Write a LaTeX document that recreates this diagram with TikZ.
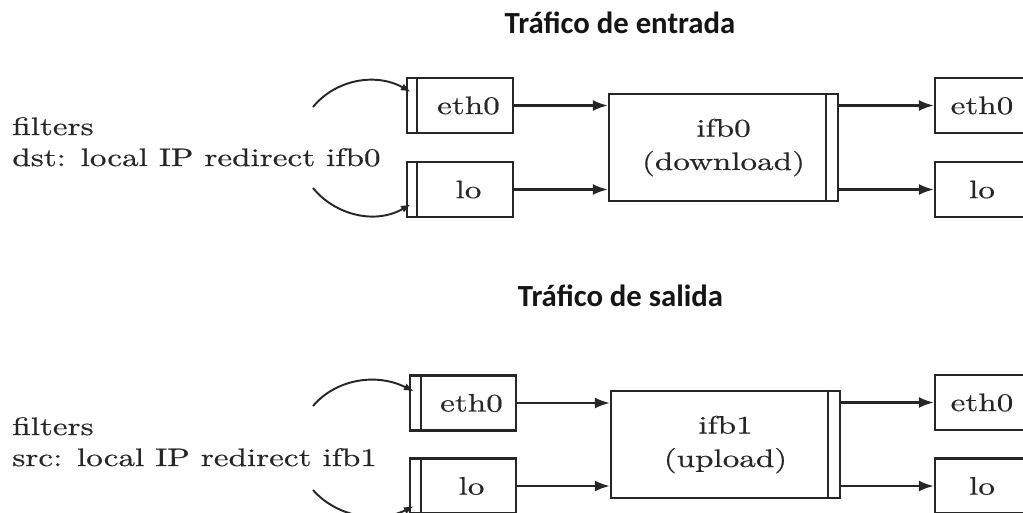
\documentclass[tikz,border=0pt]{standalone}
\usepackage{fontspec}
\usetikzlibrary{arrows.meta,calc}
\newfontfamily\lmwide{lmroman10-regular.otf}[FakeStretch=1.31,FakeBold=0.5]
\newfontfamily\headfont{Carlito}
\definecolor{ink}{HTML}{262626}
\definecolor{headink}{HTML}{151515}
\tikzset{
  iface/.style={draw=ink, line width=1.3pt, minimum width=2.12cm, minimum height=1.1cm,
    inner sep=0pt, font=\lmwide\fontsize{14.4}{19}\selectfont, text=ink},
  ifbbox/.style={iface, minimum width=4.58cm, minimum height=2.14cm, align=center},
  flow/.style={draw=ink, line width=1.3pt, -{Latex[length=0.3cm,width=0.22cm]}},
  hook/.style={draw=ink, line width=1.1pt, -{Latex[length=0.2cm,width=0.15cm]}},
  qbar/.style={draw=ink, line width=1.3pt},
  note/.style={font=\lmwide\fontsize{14.4}{18}\selectfont, text=ink, anchor=base west, inner sep=0pt},
  heading/.style={font=\headfont\bfseries\fontsize{17.5}{21}\selectfont, text=headink,
    anchor=base, inner sep=0pt},
}
\begin{document}
\begin{tikzpicture}[x=0.02cm, y=-0.02cm]
\useasboundingbox (0,0) rectangle (1023,512);
\clip (0,0) rectangle (1023,512);

% ---------- incoming traffic ----------
\node[heading] (t0) at (620,33) {Tráfico de entrada};

\node[note] (f0) at (12,135) {filters};
\node[note] (d0) at (12,166) {dst: local IP redirect ifb0};

\node[iface] (e0in) at (460,105.5) {\hspace*{0.34cm}eth0};
\node[iface] (l0in) at (460,189.5) {\hspace*{0.34cm}lo};
\node[ifbbox] (ifb0) at (723.5,147.5) {ifb0\\(download)};
\node[iface] (e0out) at (988,105.5) {eth0\hspace*{0.24cm}};
\node[iface] (l0out) at (988,189.5) {lo\hspace*{0.24cm}};

\draw[qbar] ([xshift=0.22cm]e0in.north west) -- ([xshift=0.22cm]e0in.south west);
\draw[qbar] ([xshift=0.22cm]l0in.north west) -- ([xshift=0.22cm]l0in.south west);
\draw[qbar] ([xshift=-0.26cm]ifb0.north east) -- ([xshift=-0.26cm]ifb0.south east);
\draw[qbar] ([xshift=-0.22cm]e0out.north east) -- ([xshift=-0.22cm]e0out.south east);
\draw[qbar] ([xshift=-0.22cm]l0out.north east) -- ([xshift=-0.22cm]l0out.south east);

\draw[flow] (e0in.east) -- (e0in.east -| ifb0.west);
\draw[flow] (l0in.east) -- (l0in.east -| ifb0.west);
\draw[flow] (ifb0.east |- e0out) -- (e0out.west);
\draw[flow] (ifb0.east |- l0out) -- (l0out.west);

\coordinate (h0a) at (313,107);
\coordinate (h0b) at (313,188);
\draw[hook] (h0a) .. controls (335,80) and (375,72) .. ([shift={(0.1cm,-0.3cm)}]e0in.north west);
\draw[hook] (h0b) .. controls (335,215) and (375,225) .. ([shift={(0.1cm,0.28cm)}]l0in.south west);

% ---------- outgoing traffic ----------
\node[heading] (t1) at (620.5,306) {Tráfico de salida};

\node[note] (f1) at (12,435) {filters};
\node[note] (s1) at (12,466) {src: local IP redirect ifb1};

\node[iface] (e1in) at (463,403) {\hspace*{0.34cm}eth0};
\node[iface] (l1in) at (463,486) {\hspace*{0.34cm}lo};
\node[ifbbox] (ifb1) at (725.5,444.5) {ifb1\\(upload)};
\node[iface] (e1out) at (988,402.5) {eth0\hspace*{0.24cm}};
\node[iface] (l1out) at (988,486) {lo\hspace*{0.24cm}};

\draw[qbar] ([xshift=0.24cm]e1in.north west) -- ([xshift=0.24cm]e1in.south west);
\draw[qbar] ([xshift=0.24cm]l1in.north west) -- ([xshift=0.24cm]l1in.south west);
\draw[qbar] ([xshift=-0.26cm]ifb1.north east) -- ([xshift=-0.26cm]ifb1.south east);
\draw[qbar] ([xshift=-0.22cm]e1out.north east) -- ([xshift=-0.22cm]e1out.south east);
\draw[qbar] ([xshift=-0.22cm]l1out.north east) -- ([xshift=-0.22cm]l1out.south east);

\draw[flow] (e1in.east) -- (e1in.east -| ifb1.west);
\draw[flow] (l1in.east) -- (l1in.east -| ifb1.west);
\draw[flow] (ifb1.east |- e1out) -- (e1out.west);
\draw[flow] (ifb1.east |- l1out) -- (l1out.west);

\coordinate (h1a) at (313,406);
\coordinate (h1b) at (313,490);
\draw[hook] (h1a) .. controls (335,380) and (375,372) .. ([shift={(0.1cm,-0.34cm)}]e1in.north west);
\draw[hook] (h1b) .. controls (335,515) and (375,525) .. ([shift={(0.1cm,0.17cm)}]l1in.south west);
\end{tikzpicture}
\end{document}
